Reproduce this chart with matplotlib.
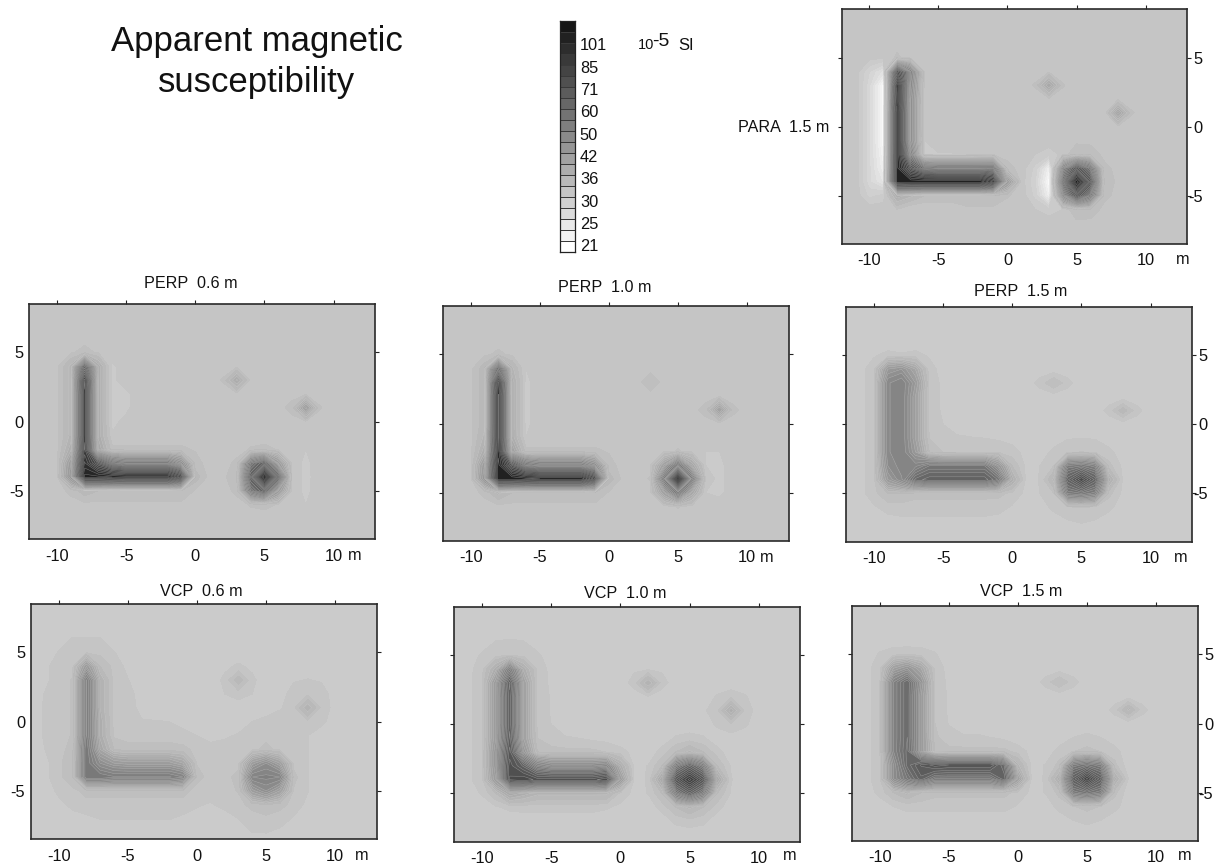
import numpy as np
import matplotlib
matplotlib.use("Agg")
import matplotlib.pyplot as plt
from matplotlib.colors import ListedColormap, BoundaryNorm

plt.rcParams['font.family'] = ['Liberation Sans', 'DejaVu Sans']
plt.rcParams['axes.unicode_minus'] = False

# Contour band edges (10^-5 SI); every second one is labelled on the scale bar
BAND_EDGES = [21, 23, 25, 27.5, 30, 33, 36, 39, 42, 46, 50, 55, 60, 65, 71, 78, 85, 93, 101, 110, 120, 130]
BAR_LABELS = ['21', '25', '30', '36', '42', '50', '60', '71', '85', '101']

# Survey grids, 1 m spacing. Columns x = -11 ... 10, rows y = 7 ... -8.
# 0 = panel background; short rows continue with background.
X_M = list(range(-11, 11))
Y_M = list(range(7, -9, -1))

PARA_15_BG = 34
PARA_15 = [
 [],
 [],
 [0,33.6,33.2,34.8,33.8],
 [0,30,27,85,55,34],
 [0,29,22,105,52,33.8,0,0,0,0,0,0,0,34.6,42,34.6],
 [0,29,22,108,50,33.6],
 [0,29,22,112,50,33.5,0,0,0,0,0,0,0,0,0,0,0,0,33,43,34.6],
 [0,29,22,112,50,33.5],
 [0,29,22,112,50,33,33.8],
 [0,29,23,112,56,32.9,32.9,32.9,32.9,33.6,0,0,0,33,32,33.5,36,35.5],
 [0,29,24,112,80,64,62,62,62,62,62,35,0,31,24,54,80,62,35],
 [0,29,26,112,115,115,115,115,115,115,100,46,0,30,22,66,125,80,36],
 [0,31,32,40,38,36,36,36,36,36,36,34.6,0,31,24,52,80,60,35],
 [0,0,0,34.4,32.9,32.9,32.9,32.9,34,34,34,0,0,33,32,33,36,35.5],
 [],
 [],
]

PERP_06_BG = 34
PERP_06 = [
 [],
 [],
 [0,0,34.3,35,34.3],
 [0,0,38,72,40,32.6],
 [0,0,38,95,40,32.5,0,0,0,0,0,0,0,34.6,41],
 [0,0,38,92,40,32.5,32.6],
 [0,0,38,92,40,32.5,32.6,0,0,0,0,0,0,0,0,0,0,0,35,45,34.6],
 [0,0,38,92,40,32.5,33.5],
 [0,0,38,92,40,33.2],
 [0,0,40,94,42,35,34.7,34.7,34.7,34.7,34.7,34.4,0,0,0,34.6,34.8,34.4,0,33],
 [0,0,46,102,80,64,60,60,60,60,50,35,0,0,34.8,60,72,46,0,32.5],
 [0,0,48,112,112,110,108,108,108,108,90,37,0,0,36,72,125,72,34.2,32.4],
 [0,0,34.8,37,36,36,36,36,36,36,36,34.3,0,0,34.8,60,72,46,0,32.5],
 [0,0,0,0,0,0,0,0,0,0,0,0,0,0,0,34.6,34.8,34.4,0,33],
 [],
 [],
]

PERP_10_BG = 34
PERP_10 = [
 [],
 [],
 [0,0,34.2,34.8,34.2],
 [0,0,37,68,38,33],
 [0,0,37,102,40,32.5,0,0,0,0,0,0,0,0,35.5],
 [0,0,37,106,40,32.5],
 [0,0,37,106,40,32.5,0,0,0,0,0,0,0,0,0,0,0,0,35,44,34.8],
 [0,0,37,106,40,32.5],
 [0,0,38,106,40,33],
 [0,0,40,108,44,35,34.7,34.7,34.7,34.7,34.7,34.4,0,0,0,0,34.6,0,33,33],
 [0,0,46,112,80,62,58,58,58,58,50,35,0,0,0,44,62,42,33,32.5],
 [0,0,48,115,115,112,110,110,110,110,90,37,0,0,34.6,60,135,60,34.2,32.4],
 [0,0,34.8,38,36,36,36,36,36,36,36,34.3,0,0,0,44,62,42,33,32.5],
 [0,0,0,0,0,0,0,0,0,0,0,0,0,0,0,0,34.6],
 [],
 [],
]

PERP_15_BG = 32
PERP_15 = [
 [],
 [],
 [0,32.8,33.5,33.2,33.5,32.8],
 [32.4,34,46,48,42,33.6,32.4],
 [32.4,34,52,55,46,34.2,32.5,0,0,0,0,0,0,33.6,36,33.6],
 [32.4,34,52,55,44,34,32.6],
 [32.4,34,52,55,44,34,32.7,0,0,0,0,0,0,0,0,0,0,0,33.6,37,33.6],
 [32.4,34,52,55,44,34.2,33,32.4],
 [32.4,34,52,55,44,34.4,33.5,33.2,33.1,33,32.8,32.4,0,0,0,32.9,33,32.9],
 [32.4,34,52,55,46,36,34.4,34,34,34,34,33.6,32.5,0,33.5,34,34.5,34,33.5],
 [32.4,34,50,54,54,60,60,60,60,60,48,36,32.6,33,34.5,58,60,56,35,32.6],
 [32.4,34,46,52,66,70,70,70,70,70,62,40,32.6,33.05,38,70,85,70,40,32.8],
 [32.4,34,36,36,35,35,35,35,35,35,35,34,32.6,33,34.5,58,60,56,35,32.6],
 [0,32.8,33.6,33.8,33.8,33.8,33.8,33.8,33.8,33.8,33.6,32.8,0,0,33.5,34,34.5,34,33.5],
 [0,0,32.4,32.6,32.6,32.6,32.6,32.6,32.6,32.6,32.4,0,0,0,0,32.9,33.2,32.9],
 [],
]

VCP_06_BG = 32
VCP_06 = [
 [],
 [0,0,33.1,33.1,33.1],
 [0,33.1,34,34.2,34,33.1],
 [32.5,34,34,46,36,34,32.5,0,0,0,0,0,0,32.6,33.3,32.6],
 [32.5,34,34.6,58,39,34,33.1,0,0,0,0,0,0,33.4,37,33.4,0,0,32.8,33.1,32.8],
 [33.1,34,34.6,58,39,34,33.6,32.3,0,0,0,0,0,33,33.7,33,0,0,34,34,34],
 [33.2,34,34.6,58,39,34,33.6,32.6,0,0,0,0,0,0,0,0,0,32.8,34,39,34,32.4],
 [33.2,34,34.6,58,40,34,34,33.1,33.1,33,32.6,32.4,0,0,0,33,33.6,34,34,34,33.5],
 [33.2,34,34.6,58,40,34.2,34,34,34,34,33.4,33,32.6,32.7,33.2,34,34,34,34,33.05],
 [33,34,35,60,42,36,35,35,35,35,35,34,33.4,33.8,34,34,35,34,34,33.1],
 [32.5,34,36,60,50,46,45,45,45,45,42,34.4,34,34,34,45,50,44,34,33.1],
 [32.5,34,36,60,60,58,58,58,58,58,55,35,34,34,35,55,56,55,35,33.1],
 [0,33.4,34,35,35,35,35,35,35,35,35,34,34,34,34.6,45,50,44,34.3,33.1],
 [0,32.5,33.4,34,34,34,34,34,34,34,34,33.2,32.8,33.6,34,35,36,35,34,32.5],
 [0,0,32.4,32.6,33.05,33.1,33.1,33.1,33.1,33.1,32.6,32.3,0,0,33,33.8,34,33.8,32.8,32.2],
 [0,0,0,0,0,0,0,0,0,0,0,0,0,0,0,33,33.05,32.6],
]

VCP_10_BG = 32
VCP_10 = [
 [],
 [0,0,33.05,33.2,33.05],
 [0,33.3,34,34.5,34,33.4],
 [32.4,34,40,58,40,34.1,32.5,0,0,0,0,0,32.7,32.8,32.7],
 [32.6,34,46,72,44,34.2,32.6,0,0,0,0,0,33.8,39,33.8],
 [32.6,34,46,70,44,34.2,32.8,0,0,0,0,0,0,32.8,0,0,0,0,33.2,34,33.2],
 [32.6,34,46,70,44,34.2,32.8,0,0,0,0,0,0,0,0,0,0,32.7,34,40,34,32.2],
 [32.6,34,46,70,44,34.2,33,0,0,0,0,0,0,0,0,0,0,0,33.3,34,33.3],
 [32.6,34,46,72,44,34.5,33.8,33.2,33,32.6,32.4,0,0,0,0,33.2,33.6,33.2,0,32.4],
 [32.6,34,48,76,48,36,35,35,35,35,34.4,33.6,32.5,0,33.6,36,38,36,33.6],
 [32.6,34,48,80,70,56,52,52,52,52,54,40,32.6,33.05,36,58,70,58,36,32.8],
 [32.6,34,46,82,85,80,80,80,80,80,85,46,32.6,33.1,42,78,95,78,42,33.1],
 [0,33.2,36,42,40,38,38,38,38,38,38,34,32.5,33.05,36,58,70,58,36,32.8],
 [0,0,32.8,33.4,33.6,33.6,33.6,33.6,33.6,33.6,33.2,32.6,0,0,33.6,36,38,36,33.6],
 [0,0,0,0,0,0,0,0,0,0,0,0,0,0,0,33.4,33.9,33.4],
 [],
]

VCP_15_BG = 32
VCP_15 = [
 [],
 [],
 [0,33.2,34,34.2,34,33.2],
 [32.4,34,44,48,42,34,32.4],
 [32.4,34,55,65,48,34.2,32.6,0,0,0,0,0,0,33.6,36,33.6],
 [32.4,34,55,65,46,34.5,32.7],
 [32.4,34,55,65,46,34.5,32.7,0,0,0,0,0,0,0,0,0,0,0,33.6,38,33.6],
 [32.4,34,55,65,46,34.5,32.9],
 [32.4,34,55,65,46,34.8,33.6,33.3,33.3,33,32.6,0,0,0,0,33,33.4,33],
 [32.4,34,55,66,46,36,35,35,35,35,35,33.8,32.5,0,33.6,34.4,35,34.4,33.6],
 [32.4,34,50,66,75,80,78,78,78,78,65,38,32.6,33.05,35,58,62,58,35],
 [32.4,34,50,60,70,60,60,60,60,60,70,44,32.6,33.1,40,72,90,72,40,33],
 [0,33.5,36,38,36,35,35,35,35,35,35,34,32.6,33.05,35,58,62,58,35],
 [0,0,33,33.6,33.6,33.6,33.6,33.6,33.6,33.6,33.6,32.8,0,0,33.6,34.4,35,34.4,33.6],
 [0,0,0,0,0,0,0,0,0,0,0,0,0,0,0,33,33.5,33],
 [],
]

X_TICKS = [-10, -5, 0, 5, 10]
Y_TICKS = [5, 0, -5]

# ---------------------------------------------------------------- layout
W, H = 1226, 868
fig = plt.figure(figsize=(W / 100, H / 100), dpi=100, facecolor='white')


def add_axes_px(l, r, t, b):
    return fig.add_axes([l / W, 1 - b / H, (r - l) / W, (b - t) / H])


def txt(x, y, s, size=11.8, **kw):
    kw.setdefault('ha', 'center')
    kw.setdefault('va', 'center')
    fig.text(x / W, 1 - y / H, s, fontsize=size, color='#111111', **kw)


# fine contour levels: each scale band split in two
edges = np.array(BAND_EDGES, dtype=float)
fine = np.sort(np.r_[edges, (edges[:-1] + edges[1:]) / 2])
fine_grey = 255 - 5.833 * np.arange(len(fine) - 1)
fine_cmap = ListedColormap([(g / 255, g / 255, g / 255) for g in fine_grey])
fine_cmap.set_over('#080808')
fine_cmap.set_under('#ffffff')
fine_norm = BoundaryNorm(fine, fine_cmap.N)

xs = np.arange(X_M[0] - 2, X_M[-1] + 5)
ys = np.arange(Y_M[0] + 2, Y_M[-1] - 4, -1)

#        grid, bg, left, right, top, bottom, side of labels, title, title x, title y, m x, m y
panels = [
 (PARA_15, PARA_15_BG, 841.7, 1187, 9.3, 244, 'right', 'PARA  1.5 m', 784, 127, 1183, 259),
 (PERP_06, PERP_06_BG, 29.3, 375, 304, 539.3, 'left', 'PERP  0.6 m', 191, 284, 355, 556),
 (PERP_10, PERP_10_BG, 443, 788.5, 306, 541, 'none', 'PERP  1.0 m', 605, 288, 767, 557),
 (PERP_15, PERP_15_BG, 846.3, 1192, 307, 541.7, 'right', 'PERP  1.5 m', 1021, 292, 1181, 558),
 (VCP_06, VCP_06_BG, 31, 376.7, 604, 839.3, 'left', 'VCP  0.6 m', 201, 591, 362, 855),
 (VCP_10, VCP_10_BG, 454.3, 800.3, 607, 841.7, 'none', 'VCP  1.0 m', 625, 593, 790, 855),
 (VCP_15, VCP_15_BG, 852, 1197.5, 606, 841, 'right', 'VCP  1.5 m', 1021, 591, 1185, 856),
]

for grid, bg, l, r, t, b, side, title, tx, ty, mx, my in panels:
    ax = add_axes_px(l, r, t, b)
    rows = [list(row) + [0] * (len(X_M) - len(row)) for row in grid]
    z = np.array(rows, dtype=float)
    z[z == 0] = bg
    z = np.pad(z, ((2, 3), (2, 4)), constant_values=bg)
    ax.contourf(xs, ys, z, levels=fine, cmap=fine_cmap, norm=fine_norm, extend='both')
    ax.contour(xs, ys, z, levels=fine[fine > 36], colors='#e0e0e0', linewidths=0.35, alpha=0.45)
    ax.set_xlim(-12, 13)
    ax.set_ylim(-8.5, 8.5)
    for s in ax.spines.values():
        s.set_linewidth(1.2)
        s.set_color('#2a2a2a')
    ax.set_xticks(X_TICKS)
    ax.set_xticklabels([str(v) for v in X_TICKS], fontsize=11.8, color='#111111')
    ax.tick_params(axis='x', which='both', top=True, bottom=False, length=3.2, width=0.8, pad=3.5,
                   color='#222222')
    ax.set_yticks(Y_TICKS)
    ax.tick_params(axis='y', which='both', left=(side != 'left'), right=True, length=3.2, width=0.8,
                   color='#222222', labelleft=(side == 'left'), labelright=(side == 'right'))
    if side == 'left':
        ax.set_yticklabels([str(v) for v in Y_TICKS], fontsize=11.8, color='#111111')
        ax.tick_params(axis='y', pad=1)
    elif side == 'right':
        ax.set_yticklabels([str(v) for v in Y_TICKS], fontsize=11.8, color='#111111')
        ax.tick_params(axis='y', pad=8.2)
        for lab in ax.get_yticklabels():
            lab.set_ha('right')
    else:
        ax.set_yticklabels([])
    txt(tx, ty, title, size=11.6)
    txt(mx, my, 'm', size=11.8)

# ------------------------------------------------------------- scale bar
cax = add_axes_px(560, 575, 21, 251.7)
idx = np.arange(len(BAND_EDGES))
bar_grey = 255 - 11.667 * idx[:-1]
bar_cmap = ListedColormap([(g / 255, g / 255, g / 255) for g in bar_grey])
cax.pcolormesh([0, 1], idx, idx[:-1].reshape(-1, 1), cmap=bar_cmap, vmin=-0.5, vmax=idx[-2] + 0.5,
               edgecolors='#3a3a3a', linewidth=0.7)
cax.set_xticks([])
cax.set_yticks(np.arange(len(BAR_LABELS)) * 2.03 + 0.6)
cax.set_yticklabels(BAR_LABELS, fontsize=11.8, color='#111111')
cax.yaxis.tick_right()
cax.tick_params(axis='y', length=0, pad=3.5)
for s in cax.spines.values():
    s.set_linewidth(0.9)
    s.set_color('#222222')

txt(638, 45, '10', size=10.5, ha='left')
txt(652, 41, '-5', size=14, ha='left')
txt(678, 45, 'SI', size=12, ha='left')

txt(256.5, 62, 'Apparent magnetic\nsusceptibility', size=25, linespacing=1.28, multialignment='center')

fig.savefig('out.png', dpi=100, facecolor='white')
